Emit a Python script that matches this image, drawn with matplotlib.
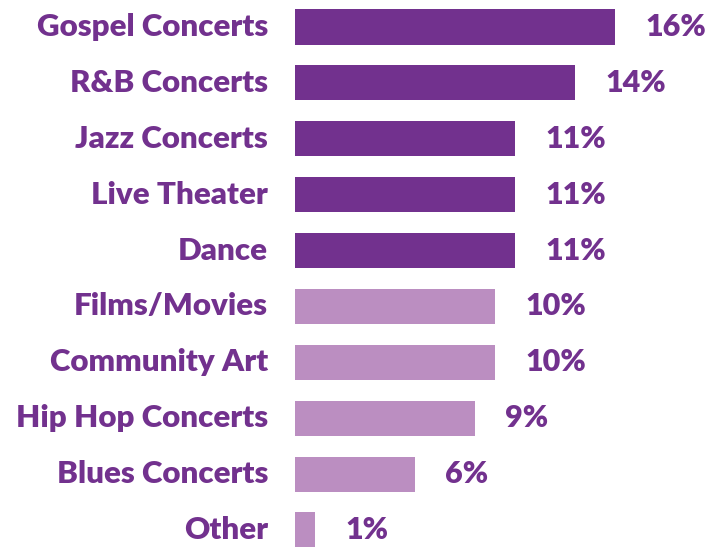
import matplotlib.pyplot as plt

categories = ["Gospel Concerts", "R&B Concerts", "Jazz Concerts", "Live Theater", "Dance",
              "Films/Movies", "Community Art", "Hip Hop Concerts", "Blues Concerts", "Other"]
values = [16, 14, 11, 11, 11, 10, 10, 9, 6, 1]
highlight = [True, True, True, True, True, False, False, False, False, False]

dark = "#72318E"
light = "#BB8EC1"

plt.rcParams['font.family'] = ['Lato', 'DejaVu Sans']

fig = plt.figure(figsize=(7.22, 5.47), dpi=100)
ax = fig.add_axes([295 / 722, 0, 427 / 722, 1])

ypos = list(range(len(categories)))
colors = [dark if h else light for h in highlight]
ax.barh(ypos, values, height=0.63, color=colors)

for y, cat, v in zip(ypos, categories, values):
    ax.text(-1.35, y, cat, ha="right", va="center", fontsize=22.5, fontweight="heavy",
            color=dark, clip_on=False)
    ax.text(v + 1.5, y, f"{v}%", ha="left", va="center", fontsize=22, fontweight="heavy",
            color=dark)

ax.set_xlim(0, 21.35)
ax.set_ylim(9.304, -0.483)
ax.axis("off")

fig.savefig("out.png", dpi=100)
